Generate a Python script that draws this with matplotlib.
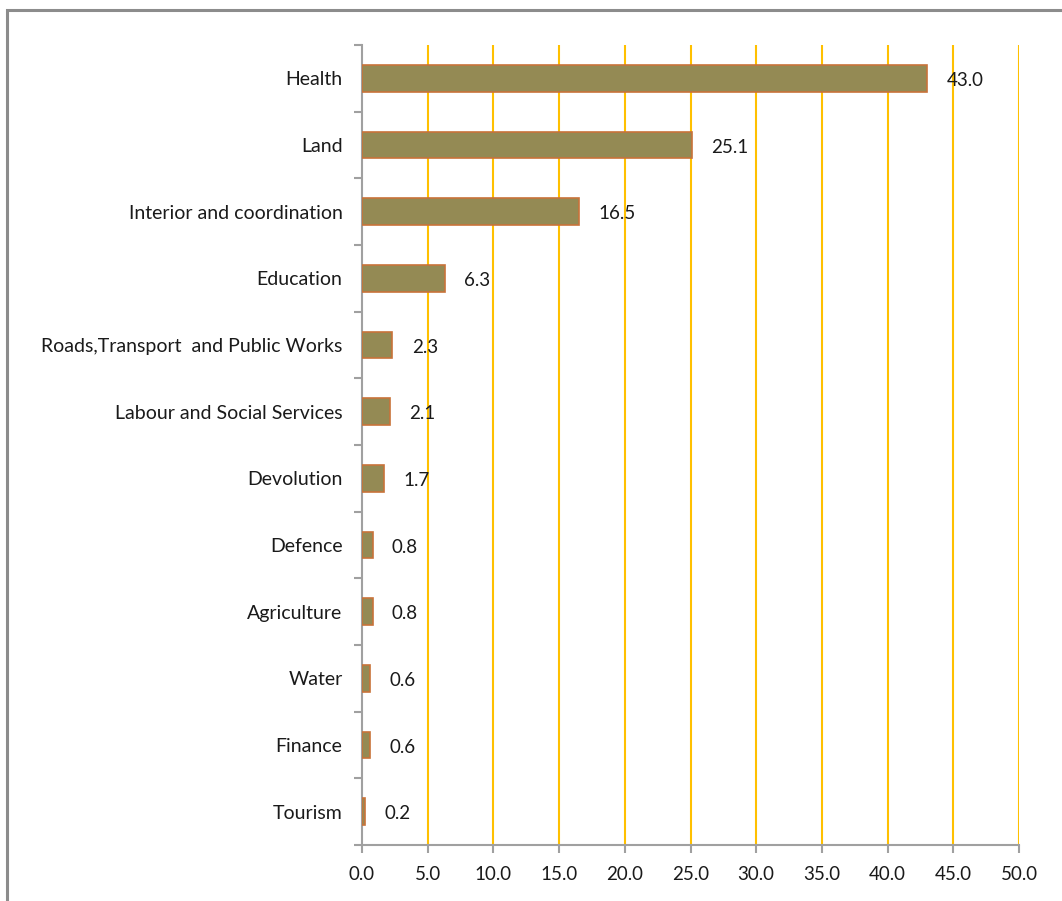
import numpy as np
import matplotlib
matplotlib.use("Agg")
import matplotlib.pyplot as plt
from matplotlib.patches import Rectangle

plt.rcParams['font.family'] = ['Lato', 'DejaVu Sans']

categories = ['Health', 'Land', 'Interior and coordination', 'Education',
              'Roads,Transport  and Public Works', 'Labour and Social Services',
              'Devolution', 'Defence', 'Agriculture', 'Water', 'Finance', 'Tourism']
values = [43.0, 25.1, 16.5, 6.3, 2.3, 2.1, 1.7, 0.8, 0.8, 0.6, 0.6, 0.2]
xticks = np.arange(0, 50.1, 5)

bar_color = '#948A54'
edge_color = '#C8733A'
grid_color = '#FFC000'
axis_color = '#A0A0A0'

fig = plt.figure(figsize=(10.62, 9.01), dpi=100)
ax = fig.add_axes([0.3409, 0.0622, 0.6186, 0.8878])

# outer chart frame
fig.patches.append(Rectangle((0.0066, -0.1), 1.2, 0.989 + 0.1,
                             transform=fig.transFigure, fill=False,
                             edgecolor='#8C8C8C', linewidth=2.2))

ypos = np.arange(len(categories))[::-1]
ax.barh(ypos, values, height=0.4, color=bar_color, edgecolor=edge_color,
        linewidth=1.2, zorder=3)

for y, v in zip(ypos, values):
    ax.annotate(f'{v:.1f}', xy=(v, y), xytext=(14, -1.5), textcoords='offset points',
                ha='left', va='center', fontsize=13.5, color='#1a1a1a')

ax.set_xlim(0, 50)
ax.set_ylim(-0.5, len(categories) - 0.5)
ax.set_xticks(xticks)
ax.set_xticklabels([f'{t:.1f}' for t in xticks], fontsize=13.5, color='#1a1a1a')

# category labels sit between the boundary ticks
ax.set_yticks(np.arange(len(categories) + 1) - 0.5)
ax.set_yticklabels([])
ax.set_yticks(ypos, minor=True)
ax.set_yticklabels(categories, minor=True, fontsize=14, color='#1a1a1a')
ax.tick_params(axis='y', which='minor', length=0, pad=14)
ax.tick_params(axis='y', which='major', length=6, width=1.5, color=axis_color)
ax.tick_params(axis='x', length=6, width=1.5, color=axis_color, pad=9)

for x in xticks[1:]:
    ax.axvline(x, color=grid_color, linewidth=1.5, zorder=1)

for side in ['top', 'right']:
    ax.spines[side].set_visible(False)
for side in ['left', 'bottom']:
    ax.spines[side].set_color(axis_color)
    ax.spines[side].set_linewidth(1.5)

fig.savefig('out.png', dpi=100)
